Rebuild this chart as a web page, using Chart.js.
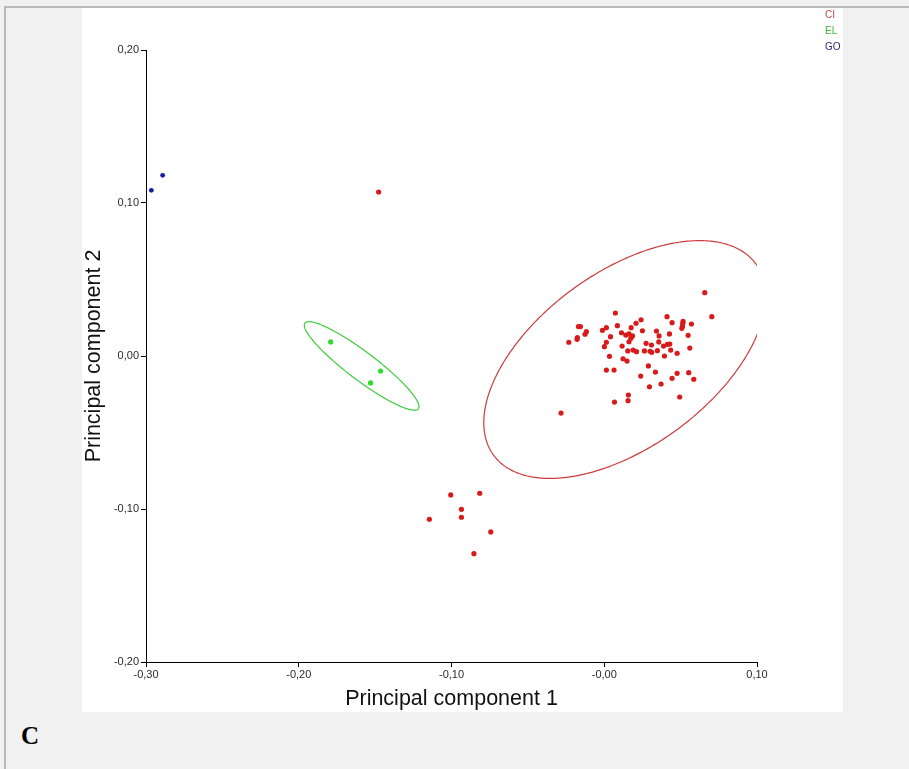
<!DOCTYPE html>
<html><head><meta charset="utf-8">
<script src="https://cdn.jsdelivr.net/npm/chart.js@4"></script>
<style>
html,body{margin:0;padding:0;width:909px;height:769px;overflow:hidden;background:#f1f1f1;}
#topline{position:absolute;left:4px;top:6px;width:905px;height:2px;background:#b9b9b9;}
#leftline{position:absolute;left:4px;top:6px;width:2px;height:763px;background:#b9b9b9;}
#panel{position:absolute;left:82px;top:8px;width:761px;height:704px;background:#fff;}
#lbl{position:absolute;left:21px;top:722px;font:bold 25px "Liberation Serif","DejaVu Serif",serif;color:#000;}
canvas{position:absolute;left:0;top:0;}
</style></head><body>
<div id="topline"></div><div id="leftline"></div><div id="panel"></div>
<div id="lbl">C</div>
<canvas id="c" width="909" height="769"></canvas>
<script>
// ---- tick labels ----
const xTickValues = [-0.3, -0.2, -0.1, 0, 0.1];
const xTickLabels = ['-0,30', '-0,20', '-0,10', '-0,00', '0,10'];
const yTickValues = [-0.2, -0.1, 0, 0.1, 0.2];
const yTickLabels = ['-0,20', '-0,10', '0,00', '0,10', '0,20'];

// ---- series ----
const seriesNames = ['CI', 'EL', 'GO'];
const ciX = [0.0658, 0.0704, 0.0073, 0.0411, 0.0241, 0.0208, 0.0086, 0.0444, 0.0516, 0.0514, 0.0512, 0.0508, 0.0571,
  -0.0156, -0.0169, 0.0014, -0.0012, -0.0117, -0.0126, 0.0176, 0.0250, 0.0342, 0.0113, 0.0141, 0.0162, 0.0185, 0.0174,
  0.0162, 0.0041, -0.0176, -0.0178, -0.0232, 0.0014, 0.0001, 0.0117, 0.0427, 0.0359, 0.0549, 0.0274, 0.0309, 0.0357,
  0.0388, 0.0414, 0.0429, 0.0435, 0.0560, 0.0189, 0.0211, 0.0154, 0.0263, 0.0300, 0.0311, 0.0348, 0.0394, 0.0477,
  0.0034, 0.0123, 0.0149, 0.0289, 0.0014, 0.0064, 0.0335, 0.0239, 0.0444, 0.0477, 0.0553, 0.0586, 0.0296, 0.0372,
  0.0067, 0.0158, 0.0156, 0.0494, -0.0283,
  -0.1477,
  -0.1005, -0.0815, -0.0935, -0.0935, -0.1145, -0.0743, -0.0853];
const ciY = [0.0414, 0.0257, 0.0281, 0.0257, 0.0237, 0.0214, 0.0198, 0.0218, 0.0227, 0.0214, 0.0194, 0.0181, 0.0209,
  0.0192, 0.0192, 0.0185, 0.0168, 0.0159, 0.0142, 0.0185, 0.0165, 0.0163, 0.0152, 0.0137, 0.0144, 0.0131, 0.0116,
  0.0093, 0.0126, 0.0120, 0.0109, 0.0090, 0.0090, 0.0061, 0.0065, 0.0144, 0.0131, 0.0135, 0.0083, 0.0072, 0.0092,
  0.0065, 0.0076, 0.0078, 0.0039, 0.0052, 0.0039, 0.0028, 0.0033, 0.0033, 0.0031, 0.0024, 0.0035, 0.0000, 0.0018,
  -0.0002, -0.0018, -0.0033, -0.0065, -0.0092, -0.0092, -0.0105, -0.0131, -0.0146, -0.0113, -0.0109, -0.0152, -0.0201, -0.0183,
  -0.0301, -0.0255, -0.0292, -0.0268, -0.0373,
  0.1072,
  -0.0908, -0.0897, -0.1002, -0.1054, -0.1067, -0.1150, -0.1292];
const elX = [-0.1791, -0.1464, -0.1530];
const elY = [0.0092, -0.0098, -0.0176];
const goX = [-0.2965, -0.2891];
const goY = [0.1083, 0.1181];

// ---- ellipses (centre, semi-axes, rotation in degrees) ----
const ellipseGroups = ['CI', 'EL'];
const ellipseCX = [0.0134, -0.1588];
const ellipseCY = [-0.0023, -0.0065];
const ellipseA = [0.1062, 0.0465];
const ellipseB = [0.0572, 0.0092];
const ellipseAngle = [36, -37];

const pointColors = {CI: '#d91a1a', EL: '#2edb2e', GO: '#1a1aa6'};
const lineColors = {CI: '#cc3b3b', EL: '#3ccc3c'};
const legendColors = {CI: '#c84646', EL: '#3cb83c', GO: '#28287f'};

const FONT = '"Liberation Sans", Arial, sans-serif';
const toPts = (xs, ys) => xs.map((x, i) => ({x: x, y: ys[i]}));

const ellipsePlugin = {
  id: 'ellipses',
  beforeDatasetsDraw(chart) {
    const {ctx, chartArea, scales} = chart;
    ctx.save();
    ctx.beginPath();
    ctx.rect(chartArea.left, chartArea.top, chartArea.right - chartArea.left, chartArea.bottom - chartArea.top);
    ctx.clip();
    ellipseGroups.forEach((g, k) => {
      const th = ellipseAngle[k] * Math.PI / 180;
      ctx.beginPath();
      for (let i = 0; i <= 360; i++) {
        const t = i * Math.PI / 180;
        const ex = ellipseA[k] * Math.cos(t), ey = ellipseB[k] * Math.sin(t);
        const x = ellipseCX[k] + ex * Math.cos(th) - ey * Math.sin(th);
        const y = ellipseCY[k] + ex * Math.sin(th) + ey * Math.cos(th);
        const px = scales.x.getPixelForValue(x), py = scales.y.getPixelForValue(y);
        if (i === 0) ctx.moveTo(px, py); else ctx.lineTo(px, py);
      }
      ctx.closePath();
      ctx.strokeStyle = lineColors[g];
      ctx.lineWidth = 1.2;
      ctx.stroke();
    });
    ctx.restore();
  }
};

const legendPlugin = {
  id: 'textLegend',
  afterDraw(chart) {
    const ctx = chart.ctx;
    ctx.save();
    ctx.font = '10px ' + FONT;
    ctx.textAlign = 'left';
    ctx.textBaseline = 'middle';
    chart.data.datasets.forEach((ds, i) => {
      ctx.fillStyle = legendColors[ds.label];
      ctx.fillText(ds.label, 825, 15 + i * 16.3);
    });
    ctx.restore();
  }
};

new Chart(document.getElementById('c'), {
  type: 'scatter',
  data: {
    datasets: [
      {label: seriesNames[0], data: toPts(ciX, ciY), backgroundColor: pointColors.CI, borderWidth: 0, pointRadius: 2.6},
      {label: seriesNames[1], data: toPts(elX, elY), backgroundColor: pointColors.EL, borderWidth: 0, pointRadius: 2.6},
      {label: seriesNames[2], data: toPts(goX, goY), backgroundColor: pointColors.GO, borderWidth: 0, pointRadius: 2.4}
    ]
  },
  options: {
    responsive: false,
    animation: false,
    events: [],
    layout: {padding: {left: 0, top: 50, right: 152, bottom: 0}},
    plugins: {legend: {display: false}, tooltip: {enabled: false}, title: {display: false}},
    scales: {
      x: {
        type: 'linear', min: -0.3, max: 0.1,
        afterBuildTicks: s => { s.ticks = xTickValues.map(v => ({value: v})); },
        afterFit: s => { s.height = 107; },
        ticks: {callback: (v, i) => xTickLabels[i], font: {size: 11, family: FONT}, color: '#2a2a2a', padding: 1, maxRotation: 0, autoSkip: false},
        grid: {drawOnChartArea: false, drawTicks: true, tickLength: 5, color: '#000'},
        border: {display: true, color: '#000', width: 1},
        title: {display: true, text: 'Principal component 1', font: {size: 21.5, family: FONT}, color: '#111', padding: {top: 0, bottom: 57}}
      },
      y: {
        type: 'linear', min: -0.2, max: 0.2,
        afterBuildTicks: s => { s.ticks = yTickValues.map(v => ({value: v})); },
        afterFit: s => { s.width = 146; },
        ticks: {callback: (v, i) => yTickLabels[i], font: {size: 11, family: FONT}, color: '#2a2a2a', padding: 2, autoSkip: false},
        grid: {drawOnChartArea: false, drawTicks: true, tickLength: 5, color: '#000'},
        border: {display: true, color: '#000', width: 1},
        title: {display: true, text: 'Principal component 2', font: {size: 21.5, family: FONT}, color: '#111', padding: {top: 81, bottom: 0}}
      }
    }
  },
  plugins: [ellipsePlugin, legendPlugin]
});
</script>
</body></html>
